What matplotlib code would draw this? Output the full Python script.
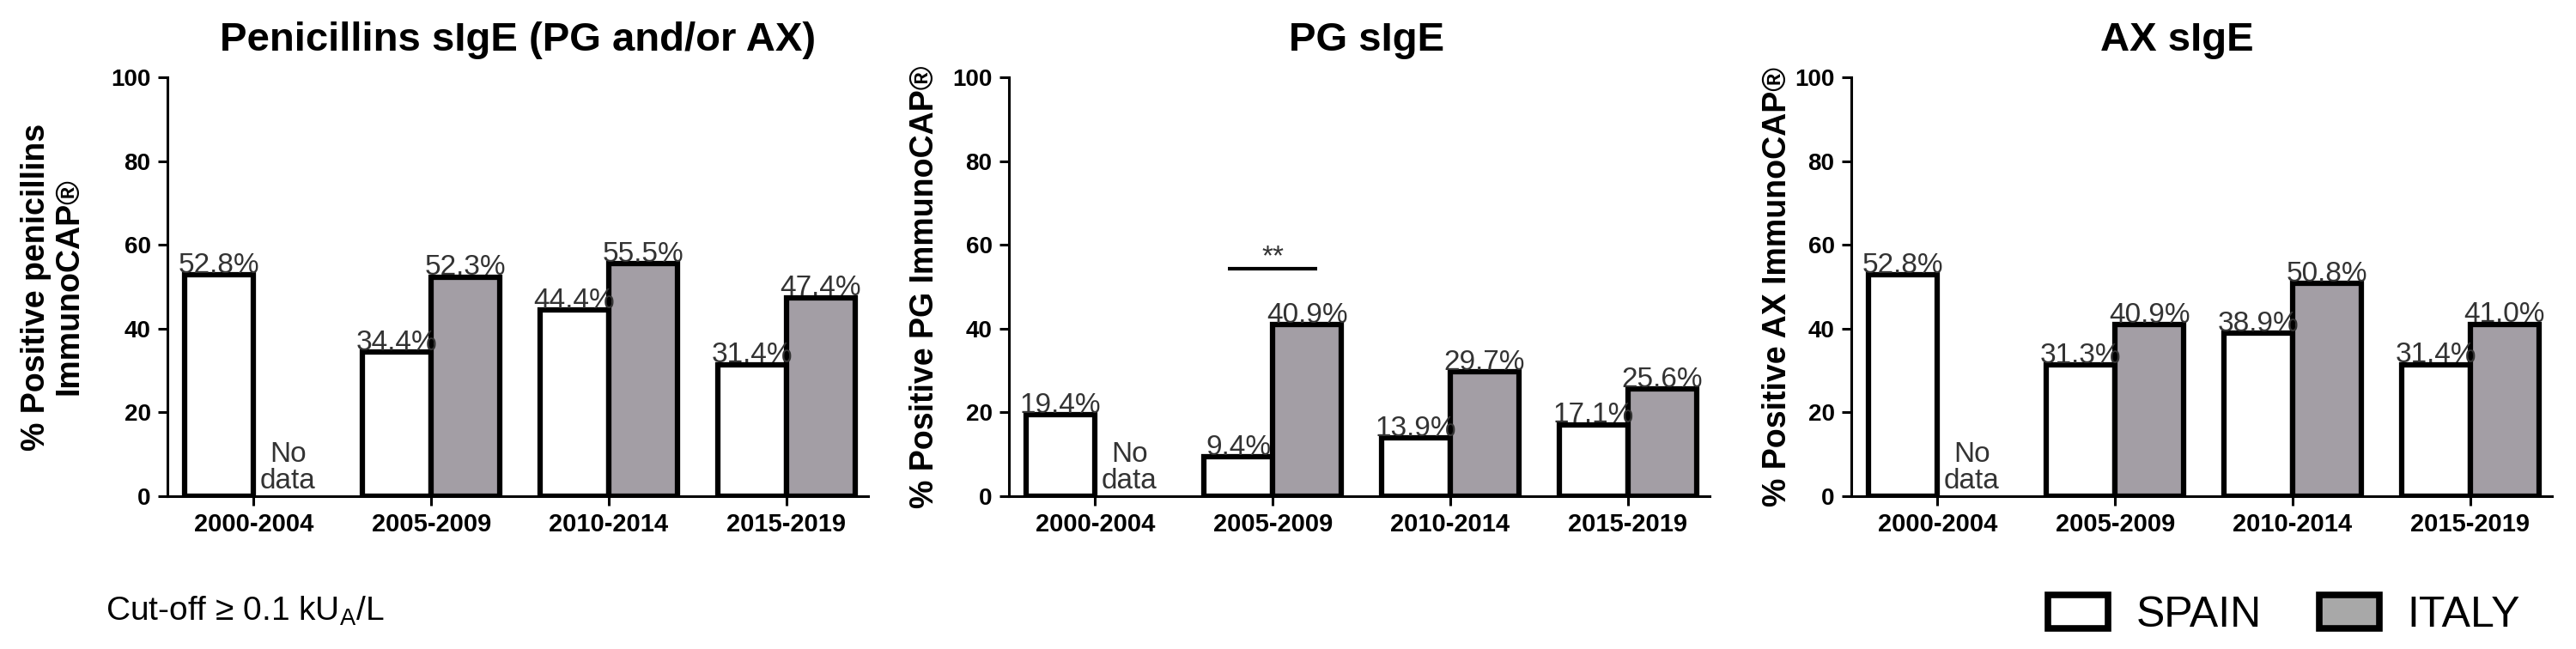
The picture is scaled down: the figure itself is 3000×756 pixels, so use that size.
import numpy as np
import matplotlib
matplotlib.use('Agg')
import matplotlib.pyplot as plt
from matplotlib.patches import Patch

plt.rcParams['font.family'] = ['Liberation Sans', 'DejaVu Sans']
plt.rcParams['mathtext.fontset'] = 'custom'
plt.rcParams['mathtext.rm'] = 'Liberation Sans'

periods = ['2000-2004', '2005-2009', '2010-2014', '2015-2019']
titles = ['Penicillins sIgE (PG and/or AX)', 'PG sIgE', 'AX sIgE']
ylabels = ['% Positive penicillins\nImmunoCAP®',
           '% Positive PG ImmunoCAP®',
           '% Positive AX ImmunoCAP®']

spain_pen = [52.8, 34.4, 44.4, 31.4]
italy_pen = [np.nan, 52.3, 55.5, 47.4]
spain_pg = [19.4, 9.4, 13.9, 17.1]
italy_pg = [np.nan, 40.9, 29.7, 25.6]
spain_ax = [52.8, 31.3, 38.9, 31.4]
italy_ax = [np.nan, 40.9, 50.8, 41.0]

spain = [spain_pen, spain_pg, spain_ax]
italy = [italy_pen, italy_pg, italy_ax]

# significance bar: PG panel, 2005-2009
sig_panel = 1
sig_group = 1
sig_level = 54.3
sig_text = '**'

white = 'white'
grey = '#a39ea5'
txtc = '#333333'

fig = plt.figure(figsize=(30, 7.56), dpi=100)

lefts = [195 / 3000, 1175 / 3000, 2156 / 3000]
bottom = 1 - 578 / 756
height = 488 / 756
width = 816 / 3000
title_x = [0.5, 0.51, 0.465]
ylab_x = [-0.118, -0.098, -0.083]

w = 0.387
x = np.arange(len(periods))

for i in range(3):
    ax = fig.add_axes([lefts[i], bottom, width, height])
    s = np.array(spain[i], dtype=float)
    it = np.array(italy[i], dtype=float)
    ax.bar(x - w / 2, s, width=w, color=white, edgecolor='black', linewidth=4.5, zorder=3)
    m = ~np.isnan(it)
    ax.bar(x[m] + w / 2, it[m], width=w, color=grey, edgecolor='black', linewidth=4.5, zorder=3)

    for xi, v in zip(x, s):
        ax.text(xi - w / 2, v + 0.5, f'{v:.1f}%', ha='center', va='baseline',
                fontsize=24, color=txtc, zorder=4)
    for xi, v in zip(x, it):
        if np.isnan(v):
            ax.text(xi + w / 2, 0.5, 'No\ndata', ha='center', va='bottom',
                    fontsize=24, color=txtc, linespacing=1.0, zorder=4)
        else:
            ax.text(xi + w / 2, v + 0.5, f'{v:.1f}%', ha='center', va='baseline',
                    fontsize=24, color=txtc, zorder=4)

    if i == sig_panel:
        ax.plot([sig_group - 0.25, sig_group + 0.25], [sig_level, sig_level],
                color='black', linewidth=3, solid_capstyle='butt')
        ax.text(sig_group, sig_level + 0.9, sig_text, ha='center', va='baseline',
                fontsize=24, color=txtc)

    ax.set_xlim(-0.485, 3.46)
    ax.set_ylim(0, 100)
    ax.set_yticks([0, 20, 40, 60, 80, 100])
    ax.set_xticks(x)
    ax.set_xticklabels(periods, fontsize=21, fontweight='bold')
    for lab in ax.get_yticklabels():
        lab.set_fontsize(20)
        lab.set_fontweight('bold')
    ax.spines['top'].set_visible(False)
    ax.spines['right'].set_visible(False)
    ax.spines['left'].set_linewidth(2.2)
    ax.spines['bottom'].set_linewidth(2.2)
    ax.tick_params(axis='y', direction='out', length=8, width=2.2, pad=6)
    ax.tick_params(axis='x', direction='out', length=8, width=2.2, pad=6)
    ax.set_title(titles[i], fontsize=34, fontweight='bold', pad=22, x=title_x[i])
    ax.set_ylabel(ylabels[i], fontsize=27, fontweight='bold', linespacing=1.1)
    ax.yaxis.set_label_coords(ylab_x[i], 0.5)

fig.text(123 / 3000, 1 - 723 / 756, 'Cut-off ≥ 0.1 kU$_\\mathregular{A}$/L',
         fontsize=28, ha='left', va='baseline')

handles = [Patch(facecolor=white, edgecolor='black', linewidth=5.5),
           Patch(facecolor='#a8a8a8', edgecolor='black', linewidth=5.5)]
fig.legend(handles, ['SPAIN', 'ITALY'], loc='center left', bbox_to_anchor=(0.795, 0.052),
           ncol=2, frameon=False, fontsize=36, handlelength=1.4, handleheight=0.8,
           handletextpad=0.65, columnspacing=1.35, borderpad=0, borderaxespad=0)

fig.savefig('out.png', dpi=100)
